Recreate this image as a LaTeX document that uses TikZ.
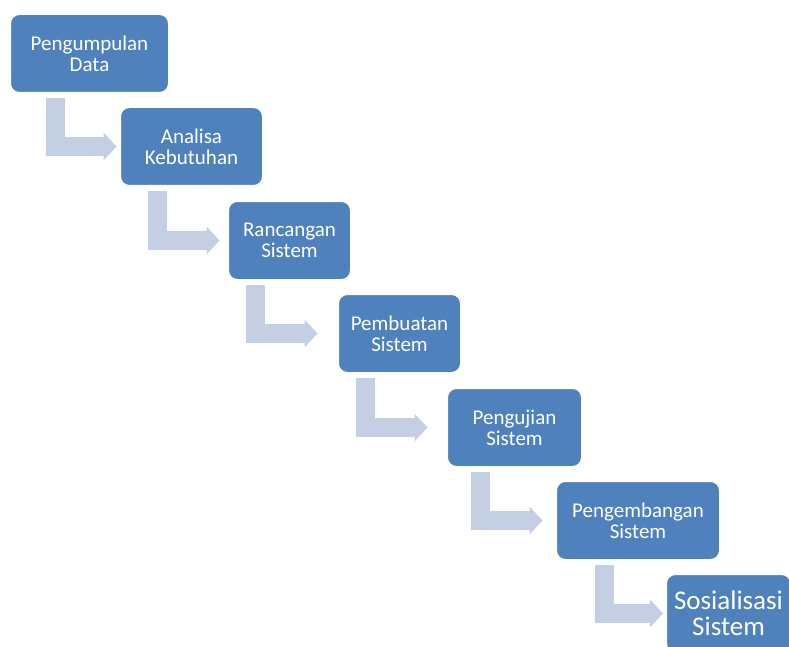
\documentclass[tikz,border=0pt]{standalone}
\usepackage{fontspec}
\setmainfont{Carlito}
\usetikzlibrary{arrows.meta}
\definecolor{birukotak}{HTML}{4F81BD}
\definecolor{birupanah}{HTML}{C4CFE3}
\begin{document}
\begin{tikzpicture}[x=1pt, y=-1pt,
  tahap/.style={draw=white, line width=1pt, fill=birukotak, rounded corners=9pt,
    anchor=north west, minimum height=78pt, inner sep=2pt, align=center,
    text=white, font=\fontsize{21}{21}\selectfont},
  panah/.style={draw=birupanah, line width=19pt, line join=miter,
    -{Triangle[width=28pt, length=13pt, line width=0pt]}}]
  \useasboundingbox (0,0) rectangle (789,647);
  \clip (0,0) rectangle (789,647);
  % kotak tahapan, turun ke kanan bawah
  \node[tahap, minimum width=158pt] (data) at (10,14) {Pengumpulan\\Data};
  \node[tahap, minimum width=142pt] (analisa) at (120,107) {Analisa\\Kebutuhan};
  \node[tahap, minimum width=122pt] (rancangan) at (228,201) {Rancangan\\Sistem};
  \node[tahap, minimum width=122pt] (pembuatan) at (338,294) {Pembuatan\\Sistem};
  \node[tahap, minimum width=134pt] (pengujian) at (447,388) {Pengujian\\Sistem};
  \node[tahap, minimum width=163pt] (pengembangan) at (556,481) {Pengembangan\\Sistem};
  \node[tahap, minimum width=124pt, font=\fontsize{27}{26}\selectfont] (sosialisasi) at (666,574) {Sosialisasi\\Sistem};
  % panah siku: turun dari kotak atas, belok ke kotak berikutnya
  \draw[panah] ([xshift=-34pt, yshift=-5pt]data.south) |- ([xshift=27pt]data.south |- analisa.west);
  \draw[panah] ([xshift=-34pt, yshift=-5pt]analisa.south) |- ([xshift=28pt]analisa.south |- rancangan.west);
  \draw[panah] ([xshift=-34pt, yshift=-5pt]rancangan.south) |- ([xshift=28pt]rancangan.south |- pembuatan.west);
  \draw[panah] ([xshift=-34pt, yshift=-5pt]pembuatan.south) |- ([xshift=28pt]pembuatan.south |- pengujian.west);
  \draw[panah] ([xshift=-34pt, yshift=-5pt]pengujian.south) |- ([xshift=28pt]pengujian.south |- pengembangan.west);
  \draw[panah] ([xshift=-34pt, yshift=-5pt]pengembangan.south) |- ([xshift=25pt]pengembangan.south |- sosialisasi.west);
\end{tikzpicture}
\end{document}
